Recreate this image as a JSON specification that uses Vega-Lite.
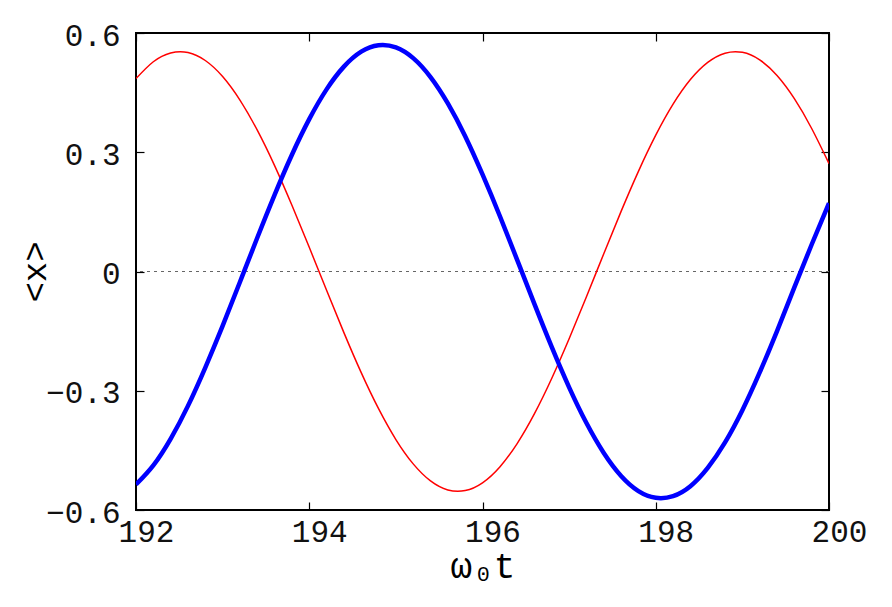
{
  "$schema": "https://vega.github.io/schema/vega-lite/v6.json",
  "width": 693,
  "height": 477,
  "autosize": "none",
  "padding": {"left": 136, "top": 33, "right": 63, "bottom": 97},
  "background": "white",
  "config": {
    "view": {"stroke": "black", "strokeWidth": 2},
    "axis": {
      "labelFont": "Liberation Mono",
      "labelFontSize": 31,
      "labelColor": "#111111",
      "labelFlush": false,
      "labelOverlap": false,
      "tickColor": "black",
      "tickWidth": 1.2,
      "domain": false,
      "grid": false,
      "titleFont": "Liberation Mono",
      "titleColor": "black",
      "titleFontWeight": "normal"
    }
  },
  "datasets": {
    "curves": [
      {"t": 192.0, "x": 0.4853, "s": "red"}, {"t": 192.2, "x": 0.5277, "s": "red"}, {"t": 192.4, "x": 0.5498, "s": "red"}, {"t": 192.6, "x": 0.5509, "s": "red"}, {"t": 192.8, "x": 0.5308, "s": "red"}, {"t": 193.0, "x": 0.4905, "s": "red"}, {"t": 193.2, "x": 0.4312, "s": "red"}, {"t": 193.4, "x": 0.3556, "s": "red"}, {"t": 193.6, "x": 0.2664, "s": "red"}, {"t": 193.8, "x": 0.1666, "s": "red"}, {"t": 194.0, "x": 0.0609, "s": "red"}, {"t": 194.2, "x": -0.0474, "s": "red"}, {"t": 194.4, "x": -0.1537, "s": "red"}, {"t": 194.6, "x": -0.2545, "s": "red"}, {"t": 194.8, "x": -0.3452, "s": "red"}, {"t": 195.0, "x": -0.4227, "s": "red"}, {"t": 195.2, "x": -0.4840, "s": "red"}, {"t": 195.4, "x": -0.5268, "s": "red"}, {"t": 195.6, "x": -0.5495, "s": "red"}, {"t": 195.8, "x": -0.5511, "s": "red"}, {"t": 196.0, "x": -0.5315, "s": "red"}, {"t": 196.2, "x": -0.4916, "s": "red"}, {"t": 196.4, "x": -0.4329, "s": "red"}, {"t": 196.6, "x": -0.3577, "s": "red"}, {"t": 196.8, "x": -0.2686, "s": "red"}, {"t": 197.0, "x": -0.1693, "s": "red"}, {"t": 197.2, "x": -0.0635, "s": "red"}, {"t": 197.4, "x": 0.0447, "s": "red"}, {"t": 197.6, "x": 0.1512, "s": "red"}, {"t": 197.8, "x": 0.2519, "s": "red"}, {"t": 198.0, "x": 0.3429, "s": "red"}, {"t": 198.2, "x": 0.4209, "s": "red"}, {"t": 198.4, "x": 0.4828, "s": "red"}, {"t": 198.6, "x": 0.5260, "s": "red"}, {"t": 198.8, "x": 0.5492, "s": "red"}, {"t": 199.0, "x": 0.5513, "s": "red"}, {"t": 199.2, "x": 0.5323, "s": "red"}, {"t": 199.4, "x": 0.4929, "s": "red"}, {"t": 199.6, "x": 0.4347, "s": "red"}, {"t": 199.8, "x": 0.3598, "s": "red"}, {"t": 200.0, "x": 0.2715, "s": "red"},
      {"t": 192.0, "x": -0.5359, "s": "blue"}, {"t": 192.2, "x": -0.4877, "s": "blue"}, {"t": 192.4, "x": -0.4209, "s": "blue"}, {"t": 192.6, "x": -0.3380, "s": "blue"}, {"t": 192.8, "x": -0.2416, "s": "blue"}, {"t": 193.0, "x": -0.1370, "s": "blue"}, {"t": 193.2, "x": -0.0265, "s": "blue"}, {"t": 193.4, "x": 0.0849, "s": "blue"}, {"t": 193.6, "x": 0.1929, "s": "blue"}, {"t": 193.8, "x": 0.2938, "s": "blue"}, {"t": 194.0, "x": 0.3833, "s": "blue"}, {"t": 194.2, "x": 0.4582, "s": "blue"}, {"t": 194.4, "x": 0.5154, "s": "blue"}, {"t": 194.6, "x": 0.5530, "s": "blue"}, {"t": 194.8, "x": 0.5693, "s": "blue"}, {"t": 195.0, "x": 0.5638, "s": "blue"}, {"t": 195.2, "x": 0.5368, "s": "blue"}, {"t": 195.4, "x": 0.4891, "s": "blue"}, {"t": 195.6, "x": 0.4228, "s": "blue"}, {"t": 195.8, "x": 0.3403, "s": "blue"}, {"t": 196.0, "x": 0.2441, "s": "blue"}, {"t": 196.2, "x": 0.1397, "s": "blue"}, {"t": 196.4, "x": 0.0293, "s": "blue"}, {"t": 196.6, "x": -0.0822, "s": "blue"}, {"t": 196.8, "x": -0.1904, "s": "blue"}, {"t": 197.0, "x": -0.2914, "s": "blue"}, {"t": 197.2, "x": -0.3813, "s": "blue"}, {"t": 197.4, "x": -0.4565, "s": "blue"}, {"t": 197.6, "x": -0.5143, "s": "blue"}, {"t": 197.8, "x": -0.5523, "s": "blue"}, {"t": 198.0, "x": -0.5692, "s": "blue"}, {"t": 198.2, "x": -0.5650, "s": "blue"}, {"t": 198.4, "x": -0.5400, "s": "blue"}, {"t": 198.6, "x": -0.4940, "s": "blue"}, {"t": 198.8, "x": -0.4300, "s": "blue"}, {"t": 199.0, "x": -0.3490, "s": "blue"}, {"t": 199.2, "x": -0.2540, "s": "blue"}, {"t": 199.4, "x": -0.1500, "s": "blue"}, {"t": 199.6, "x": -0.0400, "s": "blue"}, {"t": 199.8, "x": 0.0680, "s": "blue"}, {"t": 200.0, "x": 0.1720, "s": "blue"}
    ]
  },
  "layer": [
    {
      "data": {"values": [{}]},
      "mark": {"type": "rule", "stroke": "#666666", "strokeDash": [3, 4], "strokeWidth": 1},
      "encoding": {"y": {"datum": 0, "type": "quantitative", "axis": null}}
    },
    {
      "data": {"name": "curves"},
      "mark": {"type": "line", "interpolate": "natural", "clip": true},
      "encoding": {
        "x": {
          "field": "t", "type": "quantitative",
          "scale": {"domain": [192, 200], "nice": false, "zero": false},
          "axis": {"orient": "bottom", "values": [192, 194, 196, 198, 200], "tickSize": -8, "labelPadding": 15, "labelOffset": 10, "title": "ω₀t", "titleFontSize": 36, "titlePadding": 2}
        },
        "y": {
          "field": "x", "type": "quantitative",
          "scale": {"domain": [-0.6, 0.6], "nice": false, "zero": false},
          "axis": {"orient": "left", "values": [-0.6, -0.3, 0, 0.3, 0.6], "labelExpr": "datum.value == 0 ? '0' : format(datum.value, '.1f')", "tickSize": -8, "labelPadding": 24, "labelOffset": 3, "title": "<x>", "titleFontSize": 34, "titleX": -84}
        },
        "color": {"field": "s", "type": "nominal", "scale": {"domain": ["red", "blue"], "range": ["#ff0000", "#0000ff"]}, "legend": null},
        "strokeWidth": {"field": "s", "type": "nominal", "scale": {"domain": ["red", "blue"], "range": [1.5, 4.5]}, "legend": null}
      }
    },
    {
      "data": {"name": "curves"},
      "mark": {"type": "point", "opacity": 0},
      "encoding": {
        "x": {"field": "t", "type": "quantitative", "scale": {"domain": [192, 200], "nice": false, "zero": false}, "axis": {"orient": "top", "values": [192, 194, 196, 198, 200], "tickSize": -8, "labels": false, "title": null}},
        "y": {"field": "x", "type": "quantitative", "scale": {"domain": [-0.6, 0.6], "nice": false, "zero": false}, "axis": {"orient": "right", "values": [-0.6, -0.3, 0, 0.3, 0.6], "tickSize": -8, "labels": false, "title": null}}
      }
    }
  ],
  "resolve": {"axis": {"x": "independent", "y": "independent"}}
}
